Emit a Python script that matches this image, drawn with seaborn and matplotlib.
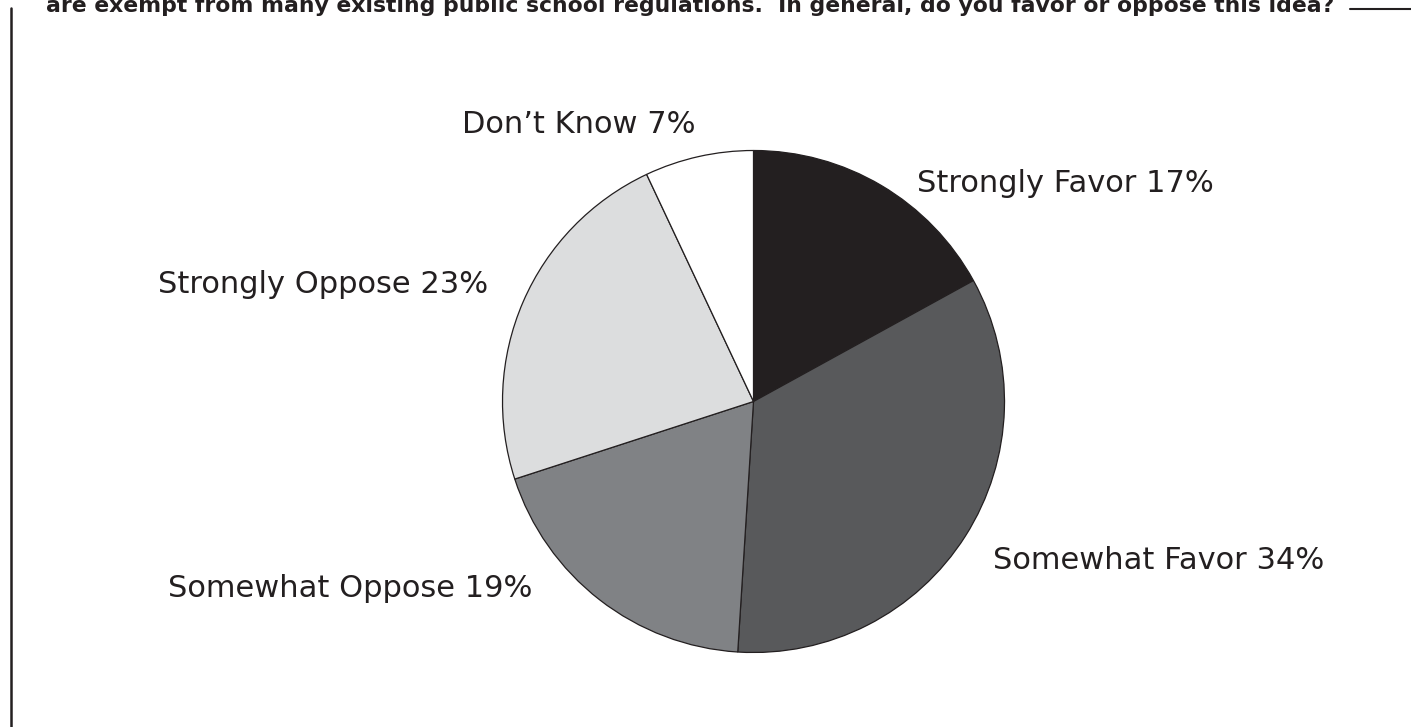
import matplotlib
matplotlib.use("Agg")
import matplotlib.pyplot as plt
import seaborn as sns
from matplotlib.lines import Line2D

sns.set_theme(style="white")
plt.rcParams["font.family"] = ["DejaVu Sans"]

# survey answers, clockwise from 12 o'clock
categories = ["Strongly Favor", "Somewhat Favor", "Somewhat Oppose",
              "Strongly Oppose", "Don\u2019t Know"]
shares = [17, 34, 19, 23, 7]
colors = ["#231f20", "#58595b", "#808285", "#dcddde", "#ffffff"]

question = ("are exempt from many existing public school regulations.  "
            "In general, do you favor or oppose this idea?")

W, H = 1411, 727
INK = "#231f20"
# label anchors: left x, baseline y (pixels from top)
label_pos = [(917, 192), (993, 569), (168, 597), (158, 293), (462, 133)]

fig = plt.figure(figsize=(W / 100, H / 100), dpi=100)
ax = fig.add_axes([0, 0, 1, 1])
ax.pie(shares, colors=colors, startangle=90, counterclock=False,
       radius=251, center=(753.5, H - 401.5),
       wedgeprops=dict(edgecolor=INK, linewidth=0.9))
ax.set_xlim(0, W)
ax.set_ylim(0, H)
ax.set_aspect("auto")
ax.axis("off")

for name, pct, (x, y) in zip(categories, shares, label_pos):
    ax.text(x, H - y, f"{name} {pct}%", ha="left", va="baseline",
            fontsize=22, color=INK)

# question text runs off the top edge, as in the source page
fig.text(46 / W, 1 - 12 / H, question, ha="left", va="baseline",
         fontsize=15.75, fontweight="bold", color=INK)
fig.add_artist(Line2D([1350 / W, 1], [1 - 9 / H] * 2, transform=fig.transFigure,
                      color=INK, lw=1.5))
fig.add_artist(Line2D([11 / W] * 2, [0, 1 - 8 / H], transform=fig.transFigure,
                      color=INK, lw=1.8))

fig.savefig("out.png", dpi=100)
